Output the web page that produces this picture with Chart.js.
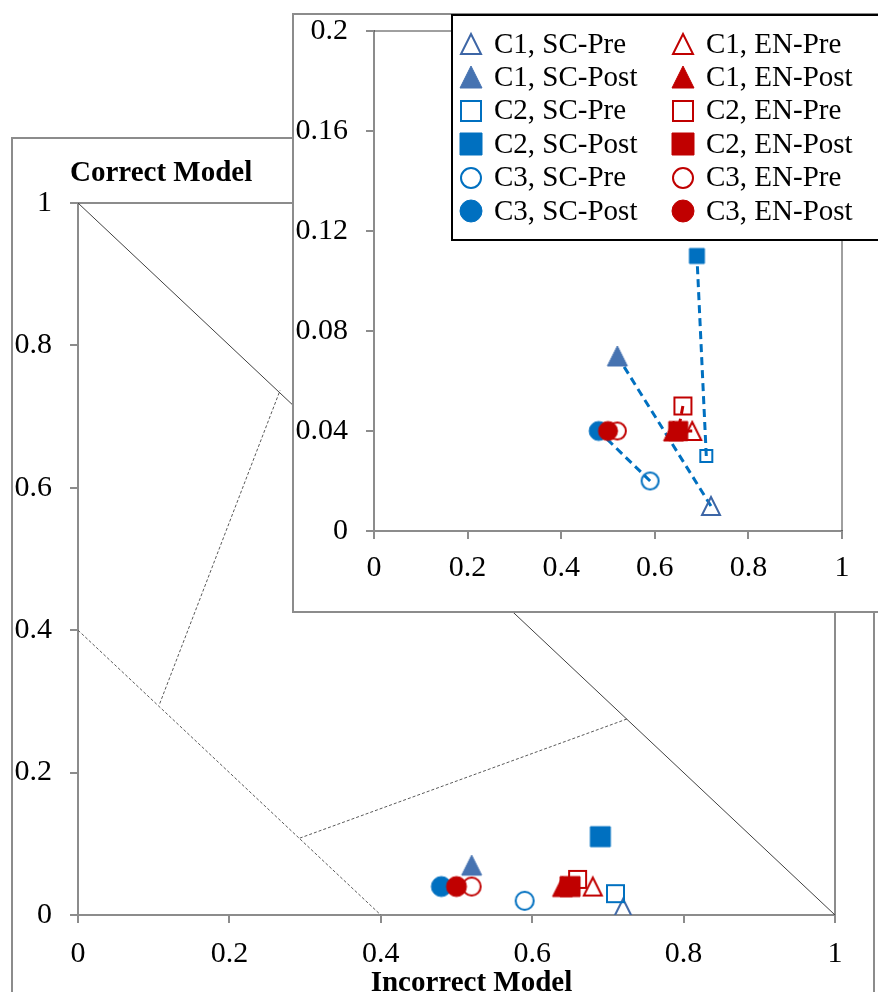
<!DOCTYPE html>
<html>
<head>
<meta charset="utf-8">
<script src="https://cdn.jsdelivr.net/npm/chart.js@4.4.0/dist/chart.umd.min.js"></script>
<style>
  html, body { margin: 0; padding: 0; background: #fff; overflow: hidden; }
  body { width: 878px; height: 992px; position: relative; }
  #outerFrame { position: absolute; left: 11px; top: 137px; width: 860px; height: 1000px; border: 2px solid #8c8c8c; }
  #mainChart { position: absolute; left: 0; top: 0; }
  #insetFrame { position: absolute; left: 292px; top: 13px; width: 700px; height: 596px; border: 2px solid #8c8c8c; background: #fff; }
  #insetChart { position: absolute; left: 293px; top: 14px; }
</style>
</head>
<body>
<div id="outerFrame"></div>
<canvas id="mainChart" width="878" height="992"></canvas>
<div id="insetFrame"></div>
<canvas id="insetChart" width="600" height="599"></canvas>
<script>
// data
const seriesLabels = ['C1, SC-Pre', 'C1, SC-Post', 'C2, SC-Pre', 'C2, SC-Post', 'C3, SC-Pre', 'C3, SC-Post',
                      'C1, EN-Pre', 'C1, EN-Post', 'C2, EN-Pre', 'C2, EN-Post', 'C3, EN-Pre', 'C3, EN-Post'];
const incorrectModel = [0.72, 0.52, 0.71, 0.69, 0.59, 0.48, 0.68, 0.64, 0.66, 0.65, 0.52, 0.50];
const correctModel   = [0.01, 0.07, 0.03, 0.11, 0.02, 0.04, 0.04, 0.04, 0.05, 0.04, 0.04, 0.04];

// pre -> post pairs joined in the zoomed plot
const prePostPairs = [[0, 1], [2, 3], [4, 5], [6, 7], [8, 9], [10, 11]];

// region lines of the model plot
const diagonalLine  = [[0, 1], [1, 0]];
const lowerBound    = [[0, 0.4], [0.4, 0]];
const upperDivider  = [[0.108, 0.297], [0.267, 0.737]];
const lowerDivider  = [[0.293, 0.108], [0.727, 0.276]];

// tick labels
const mainTicks   = [0, 0.2, 0.4, 0.6, 0.8, 1];
const insetYTicks = [0, 0.04, 0.08, 0.12, 0.16, 0.2];

// marker looks
const shapes  = ['triangle', 'triangle', 'square', 'square', 'circle', 'circle',
                 'triangle', 'triangle', 'square', 'square', 'circle', 'circle'];
const filled  = [false, true, false, true, false, true, false, true, false, true, false, true];
const colours = ['#3d66a6', '#4673b1', '#0070c0', '#0070c0', '#0070c0', '#0070c0',
                 '#c00000', '#c00000', '#c00000', '#c00000', '#c00000', '#c00000'];
const mainSizes  = [20, 20, 19, 20, 20, 20, 20, 20, 19, 20, 20, 20];
const insetSizes = [20, 20, 14, 15, 19, 19, 20, 20, 19, 19, 19, 19];

const FONT = "'Liberation Serif', 'Times New Roman', serif";

function makeMarker(shape, colour, solid, size) {
  const c = document.createElement('canvas');
  c.width = c.height = size + 6;
  const g = c.getContext('2d');
  const m = c.width / 2;
  const h = solid ? size / 2 : size / 2 - 1;
  g.beginPath();
  if (shape === 'triangle') {
    g.moveTo(m, m - h);
    g.lineTo(m + h, m + h);
    g.lineTo(m - h, m + h);
    g.closePath();
  } else if (shape === 'square') {
    g.rect(m - h, m - h, 2 * h, 2 * h);
  } else {
    g.arc(m, m, h, 0, Math.PI * 2);
  }
  if (solid) {
    g.fillStyle = colour;
    g.fill();
    g.lineWidth = 1;
    g.strokeStyle = colour;
    g.stroke();
  } else {
    g.lineWidth = 2;
    g.strokeStyle = colour;
    g.stroke();
  }
  return c;
}

const mainMarkers   = seriesLabels.map((_, i) => makeMarker(shapes[i], colours[i], filled[i], mainSizes[i]));
const insetMarkers  = seriesLabels.map((_, i) => makeMarker(shapes[i], colours[i], filled[i], insetSizes[i]));
const legendMarkers = seriesLabels.map((_, i) => makeMarker(shapes[i], colours[i], filled[i], 22));

function axis(ticks, size, horizontal, pad) {
  return {
    type: 'linear',
    min: ticks[0],
    max: ticks[ticks.length - 1],
    afterBuildTicks: s => { s.ticks = ticks.map(v => ({ value: v })); },
    afterFit: s => {
      // fixed axis box, labels may hang outside the plot area
      if (horizontal) { s.height = size; s.paddingLeft = 0; s.paddingRight = 0; }
      else { s.width = size; s.paddingTop = 0; s.paddingBottom = 0; }
    },
    grid: { drawOnChartArea: false, drawTicks: true, tickLength: 8, color: '#8c8c8c', lineWidth: 2 },
    border: { display: true, color: '#8c8c8c', width: 2 },
    ticks: {
      color: '#000', padding: pad, autoSkip: false, maxRotation: 0,
      font: { family: FONT, size: 30 },
      callback: v => String(v)
    }
  };
}

function markerSets(markers) {
  return seriesLabels.map((label, i) => ({
    label: label,
    data: [{ x: incorrectModel[i], y: correctModel[i] }],
    pointStyle: markers[i],
    pointRadius: 10,
    order: 50 - i
  }));
}

function lineSet(pts, colour, width, dash) {
  return {
    label: '',
    data: pts.map(p => ({ x: p[0], y: p[1] })),
    showLine: true,
    pointRadius: 0,
    borderColor: colour,
    borderWidth: width,
    borderDash: dash,
    order: 100
  };
}

const plotBorder = {
  id: 'plotBorder',
  beforeDatasetsDraw(chart, args, opts) {
    const a = chart.chartArea, ctx = chart.ctx;
    ctx.save();
    ctx.strokeStyle = opts.color;
    ctx.lineWidth = opts.width;
    ctx.beginPath();
    ctx.moveTo(a.left, a.top);
    ctx.lineTo(a.right, a.top);
    ctx.lineTo(a.right, a.bottom);
    ctx.stroke();
    ctx.restore();
  }
};

// axis titles of the big plot
const axisTitles = {
  id: 'axisTitles',
  afterDraw(chart) {
    const a = chart.chartArea, ctx = chart.ctx;
    ctx.save();
    ctx.fillStyle = '#000';
    ctx.font = "bold 29px " + FONT;
    ctx.textBaseline = 'alphabetic';
    ctx.textAlign = 'left';
    ctx.fillText('Correct Model', a.left - 8, a.top - 22);
    ctx.textAlign = 'center';
    ctx.fillText('Incorrect Model', (a.left + a.right) / 2 + 15, chart.height - 1);
    ctx.restore();
  }
};

new Chart(document.getElementById('mainChart'), {
  type: 'scatter',
  data: {
    datasets: markerSets(mainMarkers).concat([
      lineSet(diagonalLine, '#404040', 1, []),
      lineSet(lowerBound, '#595959', 1, [3, 2]),
      lineSet(upperDivider, '#595959', 1, [3, 2]),
      lineSet(lowerDivider, '#595959', 1, [3, 2])
    ])
  },
  options: {
    responsive: false,
    animation: false,
    layout: { padding: { left: 0, right: 43, top: 203, bottom: 0 } },
    scales: {
      x: axis(mainTicks, 77, true, 13),
      y: axis(mainTicks, 78, false, 18)
    },
    plugins: {
      legend: { display: false },
      tooltip: { enabled: false },
      plotBorder: { color: '#8c8c8c', width: 2 }
    }
  },
  plugins: [plotBorder, axisTitles]
});

// legend inside the zoomed plot, two columns: SC left, EN right
const insetLegend = {
  id: 'insetLegend',
  afterDraw(chart) {
    const ctx = chart.ctx;
    ctx.save();
    ctx.fillStyle = '#fff';
    ctx.fillRect(159, 1, 700, 225);
    ctx.strokeStyle = '#000';
    ctx.lineWidth = 2;
    ctx.strokeRect(159, 1, 700, 225);
    ctx.font = "29px " + FONT;
    ctx.fillStyle = '#000';
    ctx.textBaseline = 'middle';
    ctx.textAlign = 'left';
    seriesLabels.forEach((label, i) => {
      const col = Math.floor(i / 6), row = i % 6;
      const mx = 178 + col * 212, my = 30 + row * 33.4;
      const img = legendMarkers[i];
      ctx.drawImage(img, Math.round(mx - img.width / 2), Math.round(my - img.height / 2));
      ctx.fillText(label, mx + 23, my + 1);
    });
    ctx.restore();
  }
};

const pairColours = ['#0070c0', '#0070c0', '#0070c0', '#c00000', '#c00000', '#c00000'];

new Chart(document.getElementById('insetChart'), {
  type: 'scatter',
  data: {
    datasets: markerSets(insetMarkers).concat(prePostPairs.map((p, k) =>
      lineSet(p.map(i => [incorrectModel[i], correctModel[i]]), pairColours[k], 3, [8, 5])))
  },
  options: {
    responsive: false,
    animation: false,
    layout: { padding: { left: 0, right: 51, top: 17, bottom: 0 } },
    scales: {
      x: axis(mainTicks, 82, true, 11),
      y: axis(insetYTicks, 81, false, 18)
    },
    plugins: {
      legend: { display: false },
      tooltip: { enabled: false },
      plotBorder: { color: '#404040', width: 1 }
    }
  },
  plugins: [plotBorder, insetLegend]
});
</script>
</body>
</html>
